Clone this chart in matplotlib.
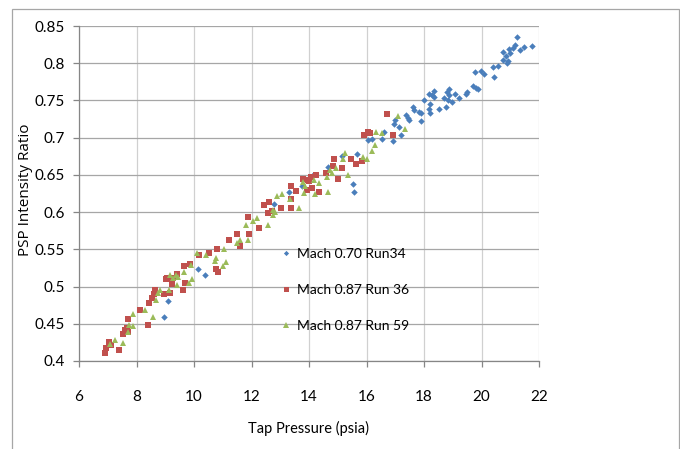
import matplotlib
matplotlib.use('Agg')
import matplotlib.pyplot as plt
from matplotlib.patches import Rectangle
from matplotlib.ticker import FuncFormatter, MultipleLocator

# Series data ##############################################################
# Mach 0.70 Run34 (blue diamonds)
p_run34 = [21.25, 21.75, 21.49, 21.34, 21.18, 21.10, 20.97, 20.99, 20.74,
           20.85, 20.74, 20.90, 20.92, 20.56, 20.39, 20.42, 20.10, 19.98,
           19.77, 19.87, 19.81, 19.69, 19.51, 19.46, 19.21, 19.08, 18.98,
           18.86, 18.80, 18.87, 18.82, 18.78, 18.71, 18.53, 18.34, 18.36,
           18.28, 18.18, 18.21, 18.18, 18.20, 18.01, 17.91, 17.90, 17.84,
           17.63, 17.64, 17.43, 17.37, 17.48, 17.19, 17.12, 16.97, 16.99,
           16.93, 16.62, 16.53, 16.18, 16.04, 15.66, 15.16, 15.54, 15.57,
           14.67, 14.15, 13.75, 13.30, 12.79, 10.15, 10.38, 9.11, 8.96]
r_run34 = [0.835, 0.823, 0.822, 0.818, 0.825, 0.820, 0.819, 0.814, 0.815,
           0.810, 0.805, 0.800, 0.803, 0.796, 0.795, 0.781, 0.786, 0.789,
           0.788, 0.766, 0.767, 0.769, 0.761, 0.758, 0.753, 0.759, 0.748,
           0.765, 0.761, 0.757, 0.751, 0.741, 0.753, 0.739, 0.763, 0.755,
           0.757, 0.758, 0.745, 0.739, 0.733, 0.750, 0.733, 0.723, 0.734,
           0.741, 0.737, 0.726, 0.730, 0.724, 0.704, 0.714, 0.718, 0.724,
           0.696, 0.707, 0.698, 0.698, 0.697, 0.678, 0.675, 0.638, 0.627,
           0.660, 0.650, 0.635, 0.627, 0.611, 0.523, 0.515, 0.481, 0.459]

# Mach 0.87 Run 36 (red squares)
p_run36 = [6.90, 6.94, 7.10, 7.05, 7.39, 7.54, 7.60, 7.66, 7.69, 7.72,
           8.12, 8.39, 8.45, 8.53, 8.61, 8.64, 8.96, 9.02, 9.05, 9.17,
           9.22, 9.28, 9.42, 9.61, 9.65, 9.69, 9.86, 10.18, 10.52, 10.79,
           10.77, 10.85, 11.21, 11.49, 11.60, 11.87, 11.91, 12.26, 12.45,
           12.62, 12.58, 12.70, 13.01, 13.38, 13.37, 13.55, 13.37, 13.78,
           13.92, 13.95, 14.01, 14.07, 14.12, 14.24, 14.35, 14.59, 14.85,
           14.88, 15.02, 15.14, 15.45, 15.63, 15.85, 15.92, 16.04, 16.12,
           16.70, 16.91]
r_run36 = [0.411, 0.418, 0.421, 0.425, 0.415, 0.436, 0.441, 0.444, 0.439,
           0.457, 0.468, 0.448, 0.478, 0.484, 0.490, 0.495, 0.490, 0.510,
           0.512, 0.491, 0.504, 0.511, 0.517, 0.495, 0.527, 0.505, 0.530,
           0.542, 0.545, 0.550, 0.523, 0.520, 0.563, 0.570, 0.554, 0.594,
           0.570, 0.579, 0.610, 0.613, 0.599, 0.602, 0.606, 0.605, 0.635,
           0.628, 0.617, 0.644, 0.630, 0.643, 0.642, 0.647, 0.633, 0.650,
           0.627, 0.653, 0.662, 0.672, 0.644, 0.659, 0.671, 0.664, 0.669,
           0.703, 0.707, 0.706, 0.732, 0.704]

# Mach 0.87 Run 59 (green triangles)
p_run59 = [7.08, 7.25, 7.54, 7.72, 7.75, 7.89, 7.87, 8.30, 8.58, 8.67,
           8.76, 8.82, 9.14, 9.17, 9.26, 9.37, 9.40, 9.45, 9.65, 9.84,
           9.88, 9.94, 10.11, 10.42, 10.73, 10.78, 11.02, 11.11, 11.05,
           11.51, 11.60, 11.89, 11.80, 12.06, 12.20, 12.56, 12.74, 12.76,
           12.80, 12.90, 13.07, 13.34, 13.66, 13.78, 13.83, 13.86, 14.17,
           14.21, 14.36, 14.62, 14.67, 14.73, 14.80, 14.94, 15.19, 15.25,
           15.35, 15.89, 16.01, 16.18, 16.30, 16.33, 16.53, 17.11, 17.34]
r_run59 = [0.423, 0.428, 0.424, 0.439, 0.448, 0.447, 0.463, 0.469, 0.459,
           0.482, 0.491, 0.496, 0.496, 0.515, 0.512, 0.515, 0.502, 0.513,
           0.520, 0.505, 0.529, 0.510, 0.545, 0.542, 0.535, 0.539, 0.527,
           0.533, 0.551, 0.559, 0.562, 0.563, 0.583, 0.588, 0.592, 0.583,
           0.603, 0.596, 0.600, 0.621, 0.624, 0.618, 0.605, 0.641, 0.626,
           0.635, 0.643, 0.624, 0.639, 0.647, 0.627, 0.657, 0.652, 0.659,
           0.671, 0.680, 0.650, 0.674, 0.671, 0.682, 0.690, 0.708, 0.706,
           0.729, 0.712]

series_labels = ['Mach 0.70 Run34', 'Mach 0.87 Run 36', 'Mach 0.87 Run 59']

# Figure ###################################################################
plt.rcParams['font.family'] = ['Lato', 'DejaVu Sans']

fig = plt.figure(figsize=(6.8, 4.49), dpi=100)
ax = fig.add_axes([79/680, 1 - 361/449, 460/680, 335/449])

# outer chart frame (bottom edge falls outside the picture)
fig.add_artist(Rectangle((11.5/680, -0.1), 667.5/680, 1.1 - 8.5/449,
                         transform=fig.transFigure, fill=False,
                         edgecolor='#A6A6A6', linewidth=0.9))

ax.plot(p_run34, r_run34, 'D', color='#4A7EBB', markersize=3.3,
        markeredgewidth=0, label=series_labels[0])
ax.plot(p_run36, r_run36, 's', color='#C0504D', markersize=4.5,
        markeredgewidth=0, label=series_labels[1])
ax.plot(p_run59, r_run59, '^', color='#9BBB59', markersize=4.8,
        markeredgewidth=0, label=series_labels[2])

ax.set_xlim(6, 22)
ax.set_ylim(0.4, 0.85)
ax.xaxis.set_major_locator(MultipleLocator(2))
ax.yaxis.set_major_locator(MultipleLocator(0.05))
ax.yaxis.set_major_formatter(FuncFormatter(lambda v, pos: '%g' % round(v, 2)))

ax.set_axisbelow(True)
ax.grid(axis='y', color='#A6A6A6', linewidth=0.9)
ax.grid(axis='x', color='#D0D0D0', linewidth=0.9)
for side in ['top', 'right']:
    ax.spines[side].set_visible(False)
for side in ['left', 'bottom']:
    ax.spines[side].set_color('#868686')
    ax.spines[side].set_linewidth(0.9)
ax.tick_params(axis='both', direction='out', length=4, width=0.9,
               color='#868686', labelsize=11, labelcolor='black')
ax.tick_params(axis='x', pad=17)
ax.tick_params(axis='y', pad=6)

ax.set_xlabel('Tap Pressure (psia)', fontsize=10.5, labelpad=12)
ax.set_ylabel('PSP Intensity Ratio', fontsize=11,
              family=['Open Sans', 'DejaVu Sans'])
ax.yaxis.set_label_coords(-0.1, 0.51)

ax.legend(loc='center left', bbox_to_anchor=(0.44, 0.212), frameon=False,
          fontsize=10, labelspacing=1.75, handlelength=0.6,
          handletextpad=0.5, borderpad=0, borderaxespad=0, markerscale=0.8)

fig.savefig('out.png', dpi=100)
